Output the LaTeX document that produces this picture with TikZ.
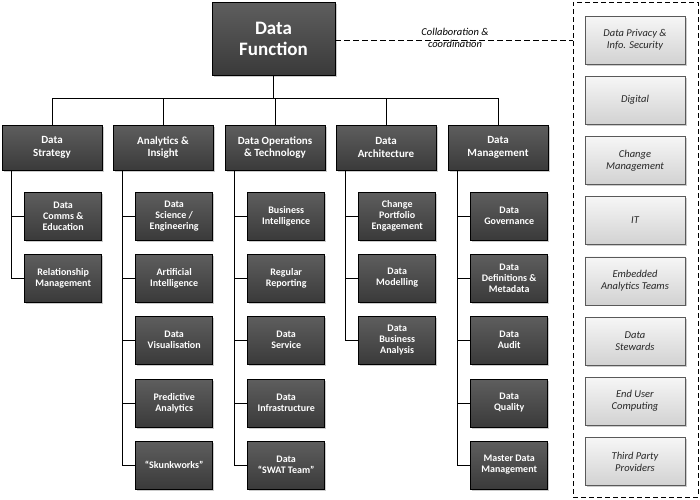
\documentclass[tikz,border=0pt]{standalone}
\usepackage{fontspec}
\setmainfont{Carlito}
\usetikzlibrary{shadows,calc}
\definecolor{dk}{HTML}{3A3A3A}
\definecolor{dkl}{HTML}{5E5E5E}
\definecolor{lt}{HTML}{D2D2D2}
\definecolor{ltl}{HTML}{F6F6F6}
\begin{document}
\begin{tikzpicture}[x=1pt,y=-1pt,
 dbox/.style={draw=black,line width=0.6pt,top color=dkl,bottom color=dk,text=white,font=\bfseries\fontsize{10}{11}\selectfont,align=center,minimum width=77,minimum height=48,inner sep=1pt,drop shadow={shadow xshift=1.5pt,shadow yshift=-1.5pt,opacity=0.4}},
 l1box/.style={dbox,minimum width=100,minimum height=45,font=\bfseries\fontsize{11}{12.5}\selectfont},
 rbox/.style={draw=gray!70!black,line width=0.6pt,top color=ltl,bottom color=lt,text=black!85,font=\itshape\fontsize{10.5}{12}\selectfont,align=center,minimum width=100,minimum height=48,inner sep=1pt,drop shadow={shadow xshift=1.5pt,shadow yshift=-1.5pt,opacity=0.4}},
 ln/.style={line width=0.8pt,black}]
\useasboundingbox (0,0) rectangle (700,499);
\node[dbox,minimum width=123,minimum height=73,font=\bfseries\fontsize{19}{21}\selectfont] (top) at (273.5,38.5) {Data\\Function};
\node[l1box] (s) at (52,147.5) {Data\\Strategy};
\node[l1box] (a) at (163,147.5) {Analytics \&\\Insight};
\node[l1box] (o) at (275,147.5) {Data Operations\\\& Technology};
\node[l1box] (r) at (386,147.5) {Data\\Architecture};
\node[l1box] (m) at (498,147.5) {Data\\Management};
\coordinate (hb) at (273.5,98);
\draw[ln] (top.south) -- (hb);
\foreach \n in {s,a,o,r,m} \draw[ln] (\n.north) -- (\n.north |- hb);
\draw[ln] (s.north |- hb) -- (m.north |- hb);
\def\ys{{216,278,340,403,465}}
\foreach \p/\lst/\last in {
 s/{Data\\Comms \&\\Education,Relationship\\Management}/1,
 a/{Data\\Science /\\Engineering,Artificial\\Intelligence,Data\\Visualisation,Predictive\\Analytics,“Skunkworks”}/4,
 o/{Business\\Intelligence,Regular\\Reporting,Data\\Service,Data\\Infrastructure,Data\\“SWAT Team”}/4,
 r/{Change\\Portfolio\\Engagement,Data\\Modelling,Data\\Business\\Analysis}/2,
 m/{Data\\Governance,Data\\Definitions \&\\Metadata,Data\\Audit,Data\\Quality,Master Data\\Management}/4}{
 \foreach \t [count=\i from 0] in \lst {
  \pgfmathsetmacro\yy{\ys[\i]}
  \node[dbox] (\p k\i) at ([xshift=61.5pt]\p.west |- 0,\yy) {\t};
  \draw[ln] (\p k\i.west) -- ++(-13,0);
 }
 \draw[ln] ([xshift=10pt]\p.south west) -- ([xshift=10pt]\p.south west |- \p k\last.west);
}
\node[draw,dash pattern=on 5pt off 3pt,line width=0.8pt,minimum width=125,minimum height=495,inner sep=0] (panel) at (635.5,249.5) {};
\foreach \t [count=\i from 0] in {Data Privacy \&\\Info. Security,Digital,Change\\Management,IT,Embedded\\Analytics Teams,Data\\Stewards,End User\\Computing,Third Party\\Providers}{
 \pgfmathsetmacro\yy{40+\i*60.2}
 \node[rbox] (p\i) at (635,\yy) {\t};
}
\draw[ln,dash pattern=on 6pt off 3pt] (top.east |- 0,40) -- (panel.west |- 0,40);
\node[font=\itshape\fontsize{10.5}{12}\selectfont,align=center] (lab) at (455,38) {Collaboration \&\\coordination};
\end{tikzpicture}
\end{document}
